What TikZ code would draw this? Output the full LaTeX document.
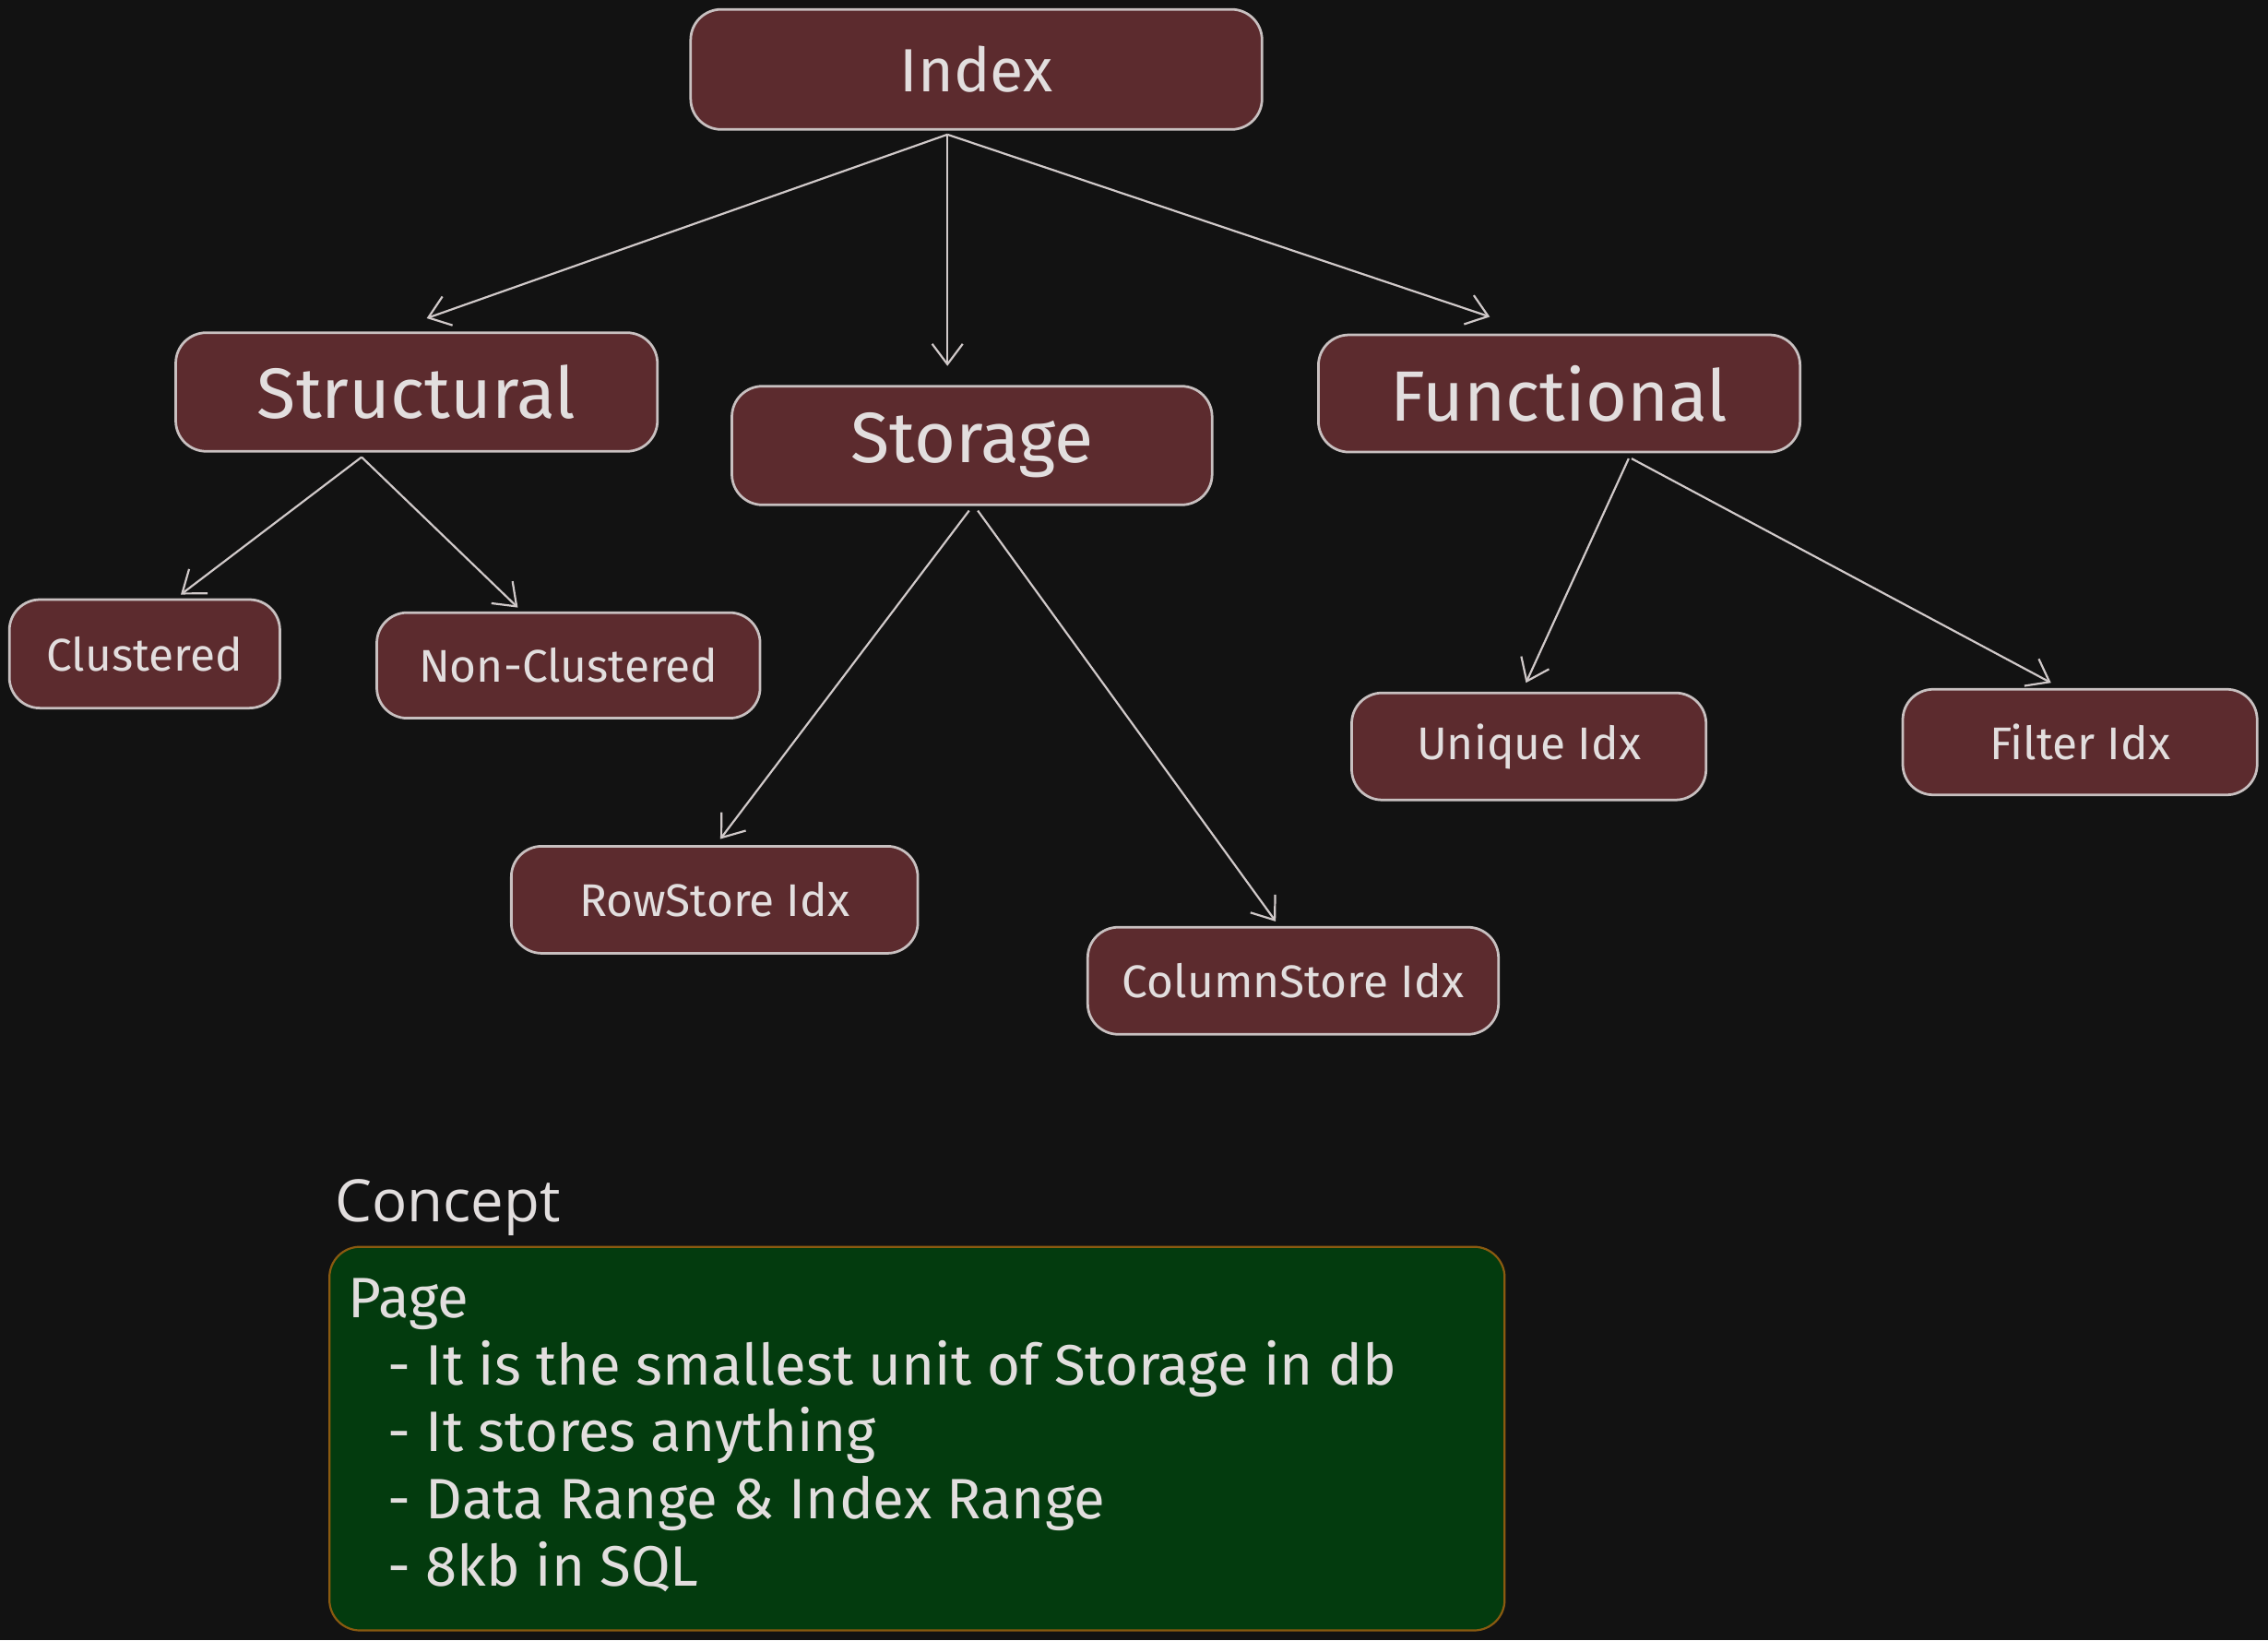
\documentclass[tikz,border=0pt]{standalone}
\usetikzlibrary{arrows.meta}
\usepackage{fontspec}
\setmainfont{Fira Sans}
\newfontfamily\conceptfont{Open Sans}
\definecolor{bg}{HTML}{121212}
\definecolor{boxf}{HTML}{5C2B2E}
\definecolor{boxd}{HTML}{C8C0C0}
\definecolor{txt}{HTML}{E2DEDE}
\definecolor{grn}{HTML}{033B0E}
\definecolor{grnd}{HTML}{8A5A10}
\begin{document}
\begin{tikzpicture}[x=0.01cm,y=-0.01cm,
 bx/.style={draw=boxd,fill=boxf,rounded corners=6pt,text=txt,line width=0.5pt,inner sep=0pt},
 ar/.style={draw=boxd!85,line width=0.4pt,-{Straight Barb[length=4pt,width=6pt]}}]
\fill[bg] (0,0) rectangle (1568,1134);
\useasboundingbox (0,0) rectangle (1568,1134);
\def\bxn#1#2#3#4#5#6#7{\node[bx,minimum width=#4*0.01cm,minimum height=#5*0.01cm,font=\fontsize{#6}{#6}\selectfont] (#1) at (#2,#3) {#7};}
\bxn{idx}{675}{48}{395}{83}{12}{Index}
\bxn{str}{288}{271}{333}{82}{14}{Structural}
\bxn{sto}{672}{308}{332}{82}{14}{Storage}
\bxn{fun}{1078}{272}{333}{81}{14}{Functional}
\bxn{clu}{100}{452}{187}{75}{9}{Clustered}
\bxn{ncl}{393}{460}{265}{73}{9}{Non-Clustered}
\bxn{row}{494}{622}{281}{74}{9}{RowStore Idx}
\bxn{col}{894}{678}{284}{74}{9}{ColumnStore Idx}
\bxn{uni}{1057}{516}{245}{74}{9}{Unique Idx}
\bxn{fil}{1438}{513}{245}{73}{9}{Filter Idx}
\coordinate (i0) at (655,93);
\coordinate (a1) at (295,220);\coordinate (a2) at (655,253);\coordinate (a3) at (1030,219);
\draw[ar] (i0)--(a1); \draw[ar] (i0)--(a2); \draw[ar] (i0)--(a3);
\coordinate (s0) at (250,316);\coordinate (b1) at (125,411);\coordinate (b2) at (358,420);
\draw[ar] (s0)--(b1); \draw[ar] (s0)--(b2);
\coordinate (t0) at (670,353);\coordinate (t1) at (676,353);\coordinate (c1) at (498,580);\coordinate (c2) at (882,637);
\draw[ar] (t0)--(c1); \draw[ar] (t1)--(c2);
\coordinate (f0) at (1126,317);\coordinate (f1) at (1128,317);\coordinate (d1) at (1055,472);\coordinate (d2) at (1418,472);
\draw[ar] (f0)--(d1); \draw[ar] (f1)--(d2);
\node[draw=grnd,fill=grn,rounded corners=6pt,minimum width=8.12cm,minimum height=2.65cm,inner sep=0pt] (cb) at (634,994.5) {};
\node[anchor=south west,text=txt,font=\conceptfont\fontsize{11.5}{11.5}\selectfont,inner sep=0pt] (cl) at (231,855) {Concept};
\node[anchor=north west,text=txt,align=left,inner sep=0pt,font=\fontsize{11.2}{13.2}\selectfont] (ct) at (240,883) {Page\\
\hspace{0.7em}- It is the smallest unit of Storage in db\\
\hspace{0.7em}- It stores anything\\
\hspace{0.7em}- Data Range \& Index Range\\
\hspace{0.7em}- 8kb in SQL};
\end{tikzpicture}
\end{document}
